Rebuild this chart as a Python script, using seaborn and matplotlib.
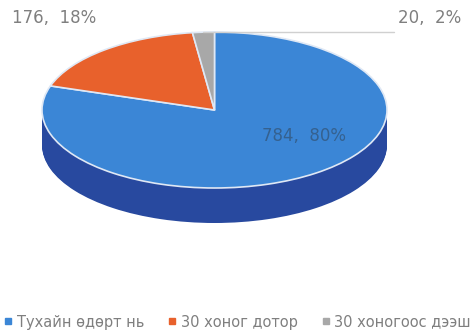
import numpy as np
import matplotlib.pyplot as plt
import seaborn as sns
from matplotlib.lines import Line2D

# data
labels = ["Тухайн өдөрт нь", "30 хоног дотор", "30 хоногоос дээш"]
values = [784, 176, 20]
pcts = [80, 18, 2]

sns.set_theme(style="white")
plt.rcParams['font.family'] = ['DejaVu Sans']

top_colors = ["#3b86d6", "#e8612c", "#a8a8a8"]
side_colors = ["#28499f", "#b8471c", "#808080"]

fig = plt.figure(figsize=(4.75, 3.36), dpi=100)
fig.patch.set_facecolor("white")

# pie axes: top ellipse spans x 42..387, y 32..188 px, side down to 223 px
thick = 35 / 78
ax = fig.add_axes([42 / 475, (336 - 223) / 336, 345 / 475, 191 / 336])

# side of the 3D pie: stack darker pies
for off in np.linspace(-thick, 0, 40):
    ax.pie(values, colors=side_colors, startangle=90, counterclock=False,
           center=(0, off), radius=1, wedgeprops=dict(linewidth=0))
# top face
ax.pie(values, colors=top_colors, startangle=90, counterclock=False,
       center=(0, 0), radius=1,
       wedgeprops=dict(edgecolor="#dfe8f5", linewidth=1.2))
ax.set_aspect('auto')
ax.set_xlim(-1, 1)
ax.set_ylim(-1 - thick, 1)
ax.axis('off')

# data labels
tcol = "#7f7f7f"
frac = np.array(values) / sum(values)
ends = 90 - 360 * np.cumsum(frac)
starts = ends + 360 * frac
mid = np.deg2rad((starts + ends) / 2)

ax.text(0.52, -0.33, f"{values[0]},  {pcts[0]}%", ha='center', va='center',
        fontsize=12, color="#35618f")
ax.text(-0.93, 1.18, f"{values[1]},  {pcts[1]}%", ha='center', va='center',
        fontsize=12, color=tcol, clip_on=False)
gx, gy = np.cos(mid[2]), np.sin(mid[2])
ax.plot([gx, 1.04], [gy, gy], color="#d0d0d0", lw=1, clip_on=False)
ax.text(1.065, 1.18, f"{values[2]},  {pcts[2]}%", ha='left', va='center',
        fontsize=12, color=tcol, clip_on=False)

# legend
handles = [Line2D([0], [0], marker='s', linestyle='', markersize=5,
                  markerfacecolor=c, markeredgecolor=c) for c in top_colors]
fig.legend(handles, labels, loc='center', ncol=3, frameon=False,
           bbox_to_anchor=(0.5, 1 - 322 / 336), fontsize=10.5,
           labelcolor=tcol, handlelength=0.6, handletextpad=0.3,
           columnspacing=1.6)

fig.savefig("out.png", dpi=100, facecolor="white")
